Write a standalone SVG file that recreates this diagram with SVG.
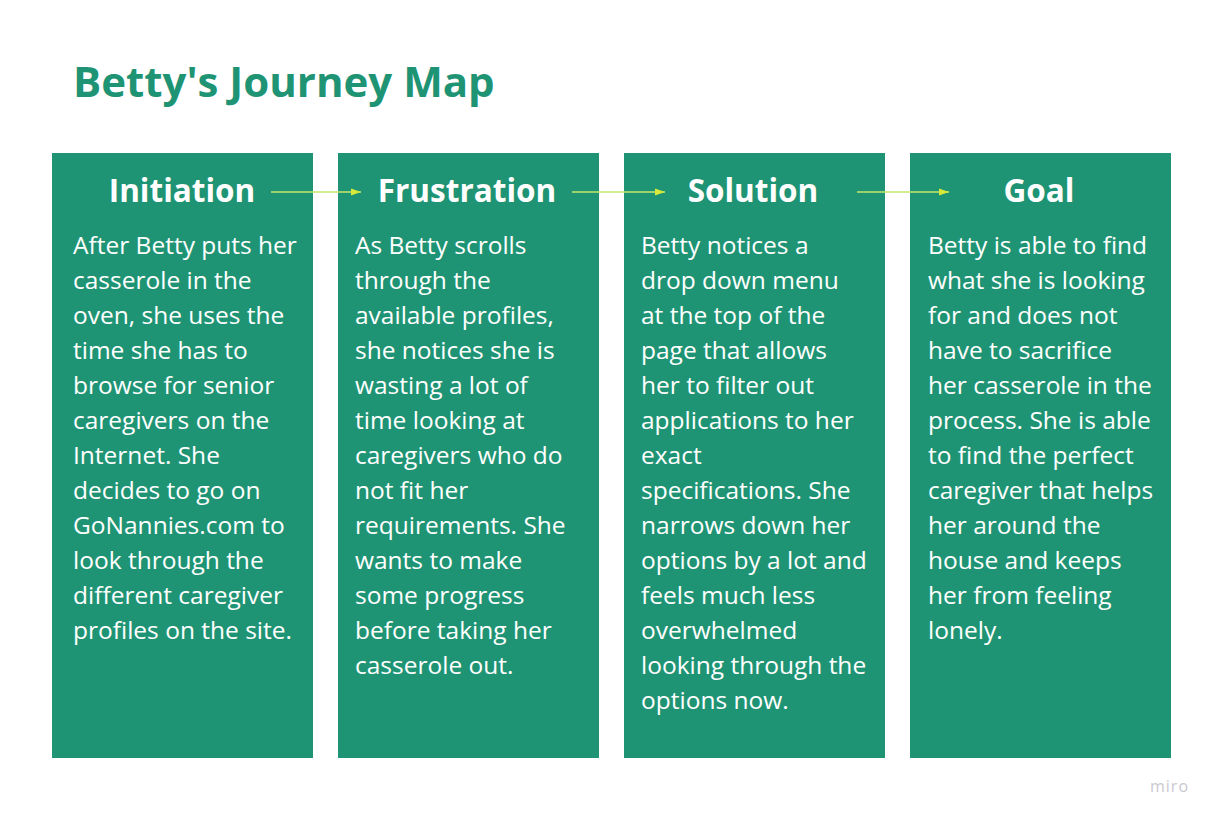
<svg xmlns="http://www.w3.org/2000/svg" width="1218" height="820" viewBox="0 0 1218 820">
<defs>
<style>
.box{fill:#1f9474}
.h{font-family:"Open Sans",sans-serif;font-weight:700;font-size:31.5px;fill:#ffffff;text-anchor:middle}
.b{font-family:"Open Sans",sans-serif;font-size:24.5px;fill:#ffffff}
.title{font-family:"Open Sans",sans-serif;font-weight:700;font-size:42px;fill:#1f9474}
.conn{stroke:#c6e66a;stroke-width:1.3;fill:none}
</style>
<marker id="ah" viewBox="0 0 10 10" refX="10" refY="5" markerWidth="10" markerHeight="10" markerUnits="userSpaceOnUse" orient="auto">
<path d="M0,1.5 L10,5 L0,8.5 Z" fill="#d6e83a"/>
</marker>
</defs>
<rect width="1218" height="820" fill="#ffffff"/>
<text class="title" x="73" y="97">Betty's Journey Map</text>
<g id="initiation">
<rect class="box" x="52" y="153" width="261" height="605"/>
<text class="h" x="182" y="202">Initiation</text>
<text class="b" x="73" y="254">
<tspan x="73" dy="0">After Betty puts her</tspan>
<tspan x="73" dy="35">casserole in the</tspan>
<tspan x="73" dy="35">oven, she uses the</tspan>
<tspan x="73" dy="35">time she has to</tspan>
<tspan x="73" dy="35">browse for senior</tspan>
<tspan x="73" dy="35">caregivers on the</tspan>
<tspan x="73" dy="35">Internet. She</tspan>
<tspan x="73" dy="35">decides to go on</tspan>
<tspan x="73" dy="35">GoNannies.com to</tspan>
<tspan x="73" dy="35">look through the</tspan>
<tspan x="73" dy="35">different caregiver</tspan>
<tspan x="73" dy="35">profiles on the site.</tspan>
</text>
</g>
<g id="frustration">
<rect class="box" x="338" y="153" width="261" height="605"/>
<text class="h" x="467" y="202">Frustration</text>
<text class="b" x="355" y="254">
<tspan x="355" dy="0">As Betty scrolls</tspan>
<tspan x="355" dy="35">through the</tspan>
<tspan x="355" dy="35">available profiles,</tspan>
<tspan x="355" dy="35">she notices she is</tspan>
<tspan x="355" dy="35">wasting a lot of</tspan>
<tspan x="355" dy="35">time looking at</tspan>
<tspan x="355" dy="35">caregivers who do</tspan>
<tspan x="355" dy="35">not fit her</tspan>
<tspan x="355" dy="35">requirements. She</tspan>
<tspan x="355" dy="35">wants to make</tspan>
<tspan x="355" dy="35">some progress</tspan>
<tspan x="355" dy="35">before taking her</tspan>
<tspan x="355" dy="35">casserole out.</tspan>
</text>
</g>
<g id="solution">
<rect class="box" x="624" y="153" width="261" height="605"/>
<text class="h" x="753" y="202">Solution</text>
<text class="b" x="641" y="254">
<tspan x="641" dy="0">Betty notices a</tspan>
<tspan x="641" dy="35">drop down menu</tspan>
<tspan x="641" dy="35">at the top of the</tspan>
<tspan x="641" dy="35">page that allows</tspan>
<tspan x="641" dy="35">her to filter out</tspan>
<tspan x="641" dy="35">applications to her</tspan>
<tspan x="641" dy="35">exact</tspan>
<tspan x="641" dy="35">specifications. She</tspan>
<tspan x="641" dy="35">narrows down her</tspan>
<tspan x="641" dy="35">options by a lot and</tspan>
<tspan x="641" dy="35">feels much less</tspan>
<tspan x="641" dy="35">overwhelmed</tspan>
<tspan x="641" dy="35">looking through the</tspan>
<tspan x="641" dy="35">options now.</tspan>
</text>
</g>
<g id="goal">
<rect class="box" x="910" y="153" width="261" height="605"/>
<text class="h" x="1039" y="202">Goal</text>
<text class="b" x="928" y="254">
<tspan x="928" dy="0">Betty is able to find</tspan>
<tspan x="928" dy="35">what she is looking</tspan>
<tspan x="928" dy="35">for and does not</tspan>
<tspan x="928" dy="35">have to sacrifice</tspan>
<tspan x="928" dy="35">her casserole in the</tspan>
<tspan x="928" dy="35">process. She is able</tspan>
<tspan x="928" dy="35">to find the perfect</tspan>
<tspan x="928" dy="35">caregiver that helps</tspan>
<tspan x="928" dy="35">her around the</tspan>
<tspan x="928" dy="35">house and keeps</tspan>
<tspan x="928" dy="35">her from feeling</tspan>
<tspan x="928" dy="35">lonely.</tspan>
</text>
</g>
<g id="connectors">
<line class="conn" x1="271" y1="192" x2="361" y2="192" marker-end="url(#ah)"/>
<line class="conn" x1="572" y1="192" x2="665" y2="192" marker-end="url(#ah)"/>
<line class="conn" x1="857" y1="192" x2="949" y2="192" marker-end="url(#ah)"/>
</g>
<text x="1150" y="792" font-family="'Open Sans',sans-serif" font-size="16" fill="#c9c9d0" letter-spacing="1">miro</text>
</svg>
